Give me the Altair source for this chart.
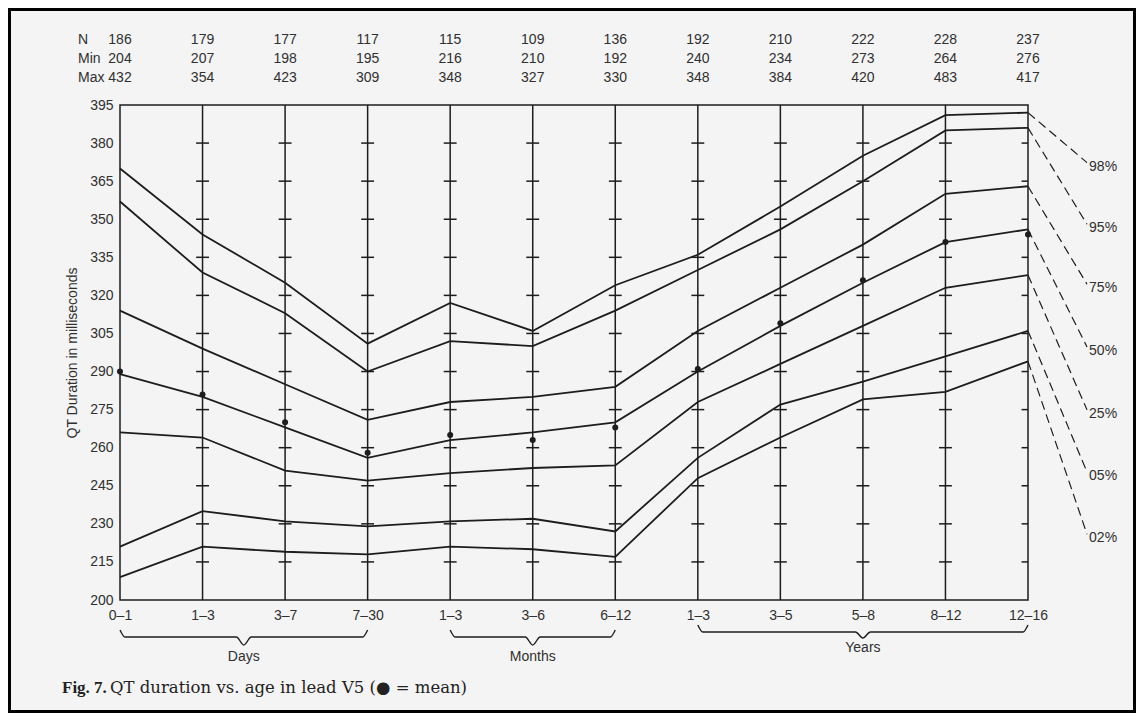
import json
import altair as alt
import pandas as pd

# ---------------- data ----------------
ages = ["0–1", "1–3", "3–7", "7–30", "1–3", "3–6", "6–12",
        "1–3", "3–5", "5–8", "8–12", "12–16"]
n_vals = [186, 179, 177, 117, 115, 109, 136, 192, 210, 222, 228, 237]
min_vals = [204, 207, 198, 195, 216, 210, 192, 240, 234, 273, 264, 276]
max_vals = [432, 354, 423, 309, 348, 327, 330, 348, 384, 420, 483, 417]

p98 = [370, 344, 325, 301, 317, 306, 324, 336, 355, 375, 391, 392]
p95 = [357, 329, 313, 290, 302, 300, 314, 330, 346, 365, 385, 386]
p75 = [314, 299, 285, 271, 278, 280, 284, 306, 323, 340, 360, 363]
p50 = [289, 280, 268, 256, 263, 266, 270, 290, 308, 325, 341, 346]
p25 = [266, 264, 251, 247, 250, 252, 253, 278, 293, 308, 323, 328]
p05 = [221, 235, 231, 229, 231, 232, 227, 256, 277, 286, 296, 306]
p02 = [209, 221, 219, 218, 221, 220, 217, 248, 264, 279, 282, 294]
means = [290, 281, 270, 258, 265, 263, 268, 291, 309, 326, 341, 344]

pct_names = ["98%", "95%", "75%", "50%", "25%", "05%", "02%"]
pct_series = [p98, p95, p75, p50, p25, p05, p02]
pct_label_vals = [370.7, 346.4, 322.8, 298.1, 273.3, 248.8, 224.3]

y_ticks = list(range(200, 396, 15))

groups = ["Days", "Months", "Years"]
group_start = [0, 4, 7]
group_end = [3, 6, 11]

caption_bold = "Fig. 7."
caption_rest = "QT duration vs. age in lead V5 (● = mean)"

# ---------------- tables ----------------
idx = list(range(len(ages)))
W, H = 908, 495
PAD = {"left": 112, "top": 97, "right": 108, "bottom": 113}
INK = "#1d1d1d"
TXT = "#303030"
BG = "#f4f4f4"
SANS = "Liberation Sans"

lines_df = pd.DataFrame([
    {"pct": p, "i": i, "v": s[i]} for p, s in zip(pct_names, pct_series) for i in idx
])
mean_df = pd.DataFrame({"i": idx, "v": means})
cols_df = pd.DataFrame({"i": idx[1:-1]})
ticks_df = pd.DataFrame([
    {"i": i - 0.078, "x2": (i + 0.078 if i < idx[-1] else i), "v": t}
    for i in idx[1:] for t in y_ticks[1:-1]
])
lead_rows = []
for p, s, lv in zip(pct_names, pct_series, pct_label_vals):
    lead_rows.append({"pct": p, "o": 0, "i": idx[-1], "v": s[-1]})
    lead_rows.append({"pct": p, "o": 1, "i": idx[-1] + 0.715, "v": lv + 1.6})
lead_df = pd.DataFrame(lead_rows)
lab_df = pd.DataFrame({"pct": pct_names, "i": idx[-1] + 0.74, "v": pct_label_vals})
table_df = pd.DataFrame({"i": idx, "n": n_vals, "mn": min_vals, "mx": max_vals})


def val(py):
    # page pixel row -> data value below the axis (decoration placement)
    return 200 - (py - 8 - (PAD["top"] + H)) / (H / 195.0)


brace_rows = []
for g, a, b in zip(groups, group_start, group_end):
    if g == "Years":
        e, h, d = val(625), val(632), val(638)
    else:
        e, h, d = val(630), val(637), val(645)
    m = (a + b) / 2.0
    pts = [(a, e), (a + 0.06, h), (m - 0.09, h), (m, d), (m + 0.09, h), (b - 0.06, h), (b, e)]
    for k, (x, y) in enumerate(pts):
        brace_rows.append({"g": g, "o": k, "i": x, "v": y})
brace_df = pd.DataFrame(brace_rows)
group_df = pd.DataFrame({
    "g": groups,
    "i": [(a + b) / 2.0 for a, b in zip(group_start, group_end)],
    "v": [val(657), val(657), val(648)],
})

# ---------------- scales / axes ----------------
xs = alt.Scale(domain=[0, idx[-1]], nice=False, zero=False)
ys = alt.Scale(domain=[200, 395], nice=False, zero=False)

label_expr = json.dumps(ages, ensure_ascii=False) + "[datum.value]"
x_axis = alt.Axis(values=idx, labelExpr=label_expr, title=None, ticks=False, domain=False,
                  grid=False, labelFontSize=14, labelColor=TXT, labelPadding=8,
                  labelFlush=False, labelOverlap=False, labelFont=SANS)
y_axis = alt.Axis(values=y_ticks, title="QT Duration in milliseconds", ticks=False,
                  domain=False, grid=False, labelFontSize=14, labelColor=TXT, labelPadding=7,
                  labelOverlap=False, labelFont=SANS, titleFont=SANS,
                  titleFontSize=14, titleFontWeight="normal", titleColor=TXT,
                  titleX=-48, titleY=H / 2, titleAlign="center", titleBaseline="middle",
                  titleAngle=270)


def X(field="i:Q"):
    return alt.X(field, scale=xs, axis=x_axis)


def Y(field="v:Q"):
    return alt.Y(field, scale=ys, axis=y_axis)


base_lines = alt.Chart(lines_df).mark_line(color=INK, strokeWidth=1.8).encode(
    x=X(), y=Y(), detail="pct:N",
)

col_rules = alt.Chart(cols_df).mark_rule(color=INK, strokeWidth=1.5).encode(
    x=X(), y=alt.value(0), y2=alt.value(H)
)

cross = alt.Chart(ticks_df).mark_rule(color=INK, strokeWidth=1.5).encode(
    x=X(), x2="x2:Q", y=Y()
)

mean_pts = alt.Chart(mean_df).mark_circle(color=INK, size=36, opacity=1).encode(
    x=X(), y=Y()
)

leaders = alt.Chart(lead_df).mark_line(color=INK, strokeWidth=1.2, strokeDash=[9, 5],
                                      clip=False).encode(
    x=X(), y=Y(), detail="pct:N", order="o:Q"
)

pct_text = alt.Chart(lab_df).mark_text(align="left", baseline="middle", fontSize=14,
                                       color=TXT, font=SANS).encode(
    x=X(), y=Y(), text="pct:N"
)

table_layers = []
for field, py, name in [("n", -65, "N"), ("mn", -46, "Min"), ("mx", -27, "Max")]:
    table_layers.append(
        alt.Chart(table_df).mark_text(align="center", baseline="middle", fontSize=14,
                                      color=TXT, font=SANS).encode(
            x=X(), y=alt.value(py), text=f"{field}:Q")
    )
    table_layers.append(
        alt.Chart(pd.DataFrame({"t": [name]})).mark_text(
            align="left", baseline="middle", fontSize=14, color=TXT,
            font=SANS).encode(x=alt.value(-42), y=alt.value(py), text="t:N")
    )

braces = alt.Chart(brace_df).mark_line(color=INK, strokeWidth=1.4, interpolate="monotone",
                                      clip=False).encode(
    x=X(), y=Y(), detail="g:N", order="o:Q"
)

group_text = alt.Chart(group_df).mark_text(align="center", baseline="middle", fontSize=14,
                                           color=TXT, font=SANS).encode(
    x=X(), y=Y(), text="g:N"
)

cap1 = alt.Chart(pd.DataFrame({"t": [caption_bold]})).mark_text(
    align="left", baseline="middle", fontSize=17, fontWeight="bold", color="#222",
    font="Liberation Serif").encode(x=alt.value(62 - 120), y=alt.value(688 - 105), text="t:N")
cap2 = alt.Chart(pd.DataFrame({"t": [caption_rest]})).mark_text(
    align="left", baseline="middle", fontSize=16.5, color="#222",
    font="DejaVu Serif").encode(x=alt.value(110 - 120), y=alt.value(688 - 105), text="t:N")

frame = alt.Chart(pd.DataFrame({"k": [0]})).mark_rect(
    fill=None, stroke="#000", strokeWidth=3, clip=False).encode(
    x=alt.value(-PAD["left"] + 1.5), x2=alt.value(W + PAD["right"] - 1.5),
    y=alt.value(-PAD["top"] + 1.5), y2=alt.value(H + PAD["bottom"] - 1.5),
)

chart = alt.layer(
    col_rules, cross, base_lines, mean_pts, leaders, pct_text, *table_layers,
    braces, group_text, cap1, cap2, frame,
).properties(
    width=W, height=H, padding=PAD, autosize=alt.AutoSizeParams(type="none"),
    background=BG,
).configure_view(stroke=INK, strokeWidth=1.5)

chart.save("out.html", embed_options={"renderer": "svg", "actions": False})
